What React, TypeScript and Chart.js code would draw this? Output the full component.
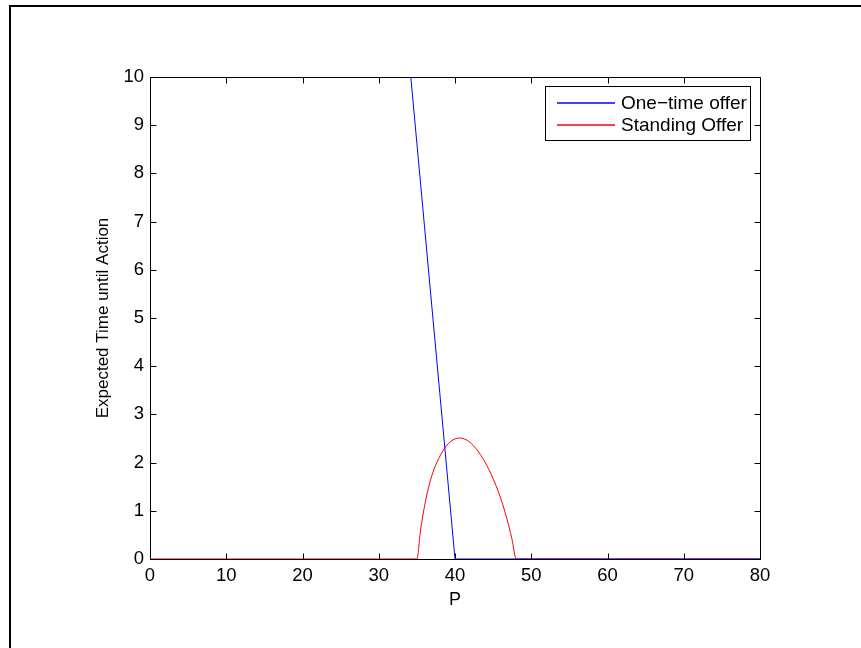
import React, { useEffect, useRef } from "react";
import { Chart, registerables } from "chart.js";

Chart.register(...registerables);

// ---- data ----
const xTickValues = [0, 10, 20, 30, 40, 50, 60, 70, 80];
const yTickValues = [0, 1, 2, 3, 4, 5, 6, 7, 8, 9, 10];

const oneTimeP = [32, 34, 36, 38, 40, 50, 60, 70, 80];
const oneTimeT = [13.8, 10.35, 6.9, 3.45, 0, 0, 0, 0, 0];

const standingP = [0, 10, 20, 30, 35.02, 35.45, 36.11, 36.98, 37.86, 38.73, 39.61, 40.62, 41.8, 43.1, 44.4, 45.7, 46.8, 47.46, 48.03, 50, 60, 70, 80];
const standingT = [0, 0, 0, 0, 0, 0.56, 1.18, 1.74, 2.08, 2.32, 2.46, 2.51, 2.44, 2.22, 1.87, 1.39, 0.84, 0.42, 0, 0, 0, 0, 0];

const seriesLabels = ["One\u2212time offer", "Standing Offer"];
const seriesColors = ["#0000ff", "#ff0000"];
const xTitle = "P";
const yTitle = "Expected Time until Action";

const FONT = "'Liberation Sans', Arial, Helvetica, sans-serif";

const framePlugin = {
  id: "frame",
  beforeDraw(chart: any) {
    const { ctx, width, height } = chart;
    ctx.save();
    ctx.fillStyle = "#ffffff";
    ctx.fillRect(0, 0, width, height);
    ctx.fillStyle = "#000000";
    ctx.fillRect(9, 5, width - 9, 2);
    ctx.fillRect(9, 5, 2, height - 5);
    ctx.restore();
  },
};

const boxTicksPlugin = {
  id: "boxTicks",
  beforeDatasetsDraw(chart: any) {
    const { ctx, chartArea, scales } = chart;
    const { left, right, top, bottom } = chartArea;
    const L = left + 0.5, R = right + 0.5, T = top + 0.5, B = bottom + 0.5;
    const tl = 6;
    ctx.save();
    ctx.strokeStyle = "#000000";
    ctx.lineWidth = 1;
    ctx.beginPath();
    for (const t of scales.x.ticks) {
      const px = Math.round(scales.x.getPixelForValue(t.value)) + 0.5;
      ctx.moveTo(px, B); ctx.lineTo(px, B - tl);
      ctx.moveTo(px, T); ctx.lineTo(px, T + tl);
    }
    for (const t of scales.y.ticks) {
      const py = Math.round(scales.y.getPixelForValue(t.value)) + 0.5;
      ctx.moveTo(L, py); ctx.lineTo(L + tl, py);
      ctx.moveTo(R, py); ctx.lineTo(R - tl, py);
    }
    ctx.stroke();
    ctx.strokeRect(L, T, R - L, B - T);
    ctx.restore();
  },
};

const legendPlugin = {
  id: "matLegend",
  afterDatasetsDraw(chart: any) {
    const { ctx, chartArea } = chart;
    const ds = chart.data.datasets;
    ctx.save();
    ctx.font = `19px ${FONT}`;
    let textW = 0;
    for (const d of ds) textW = Math.max(textW, ctx.measureText(d.label).width);
    const boxR = chartArea.right - 9.5;
    const boxT = chartArea.top + 9.5;
    const boxW = Math.round(11.5 + 58 + 6 + textW + 3.5);
    const boxL = boxR - boxW;
    const rowH = 21.6;
    const boxH = 54;
    ctx.fillStyle = "#ffffff";
    ctx.fillRect(boxL, boxT, boxW, boxH);
    ctx.strokeStyle = "#000000";
    ctx.lineWidth = 1;
    ctx.strokeRect(boxL, boxT, boxW, boxH);
    ds.forEach((d: any, i: number) => {
      const y = boxT + 16.5 + i * rowH;
      ctx.strokeStyle = seriesColors[i % seriesColors.length];
      ctx.lineWidth = 1.3;
      ctx.beginPath();
      ctx.moveTo(boxL + 11.5, Math.round(y));
      ctx.lineTo(boxL + 69.5, Math.round(y));
      ctx.stroke();
      ctx.fillStyle = "#000000";
      ctx.textBaseline = "middle";
      ctx.textAlign = "left";
      ctx.fillText(d.label, boxL + 75.5, y + 1);
    });
    ctx.restore();
  },
};

export default function App() {
  const ref = useRef<HTMLCanvasElement>(null);
  useEffect(() => {
    document.body.style.margin = "0";
    if (!ref.current) return;
    const mk = (xs: number[], ys: number[]) => xs.map((x, i) => ({ x, y: ys[i] }));
    const chart = new Chart(ref.current, {
      type: "line",
      data: {
        datasets: [
          {
            label: seriesLabels[0],
            data: mk(oneTimeP, oneTimeT),
            borderColor: seriesColors[0],
            borderWidth: 1,
            pointRadius: 0,
            tension: 0,
            clip: 0,
          },
          {
            label: seriesLabels[1],
            data: mk(standingP, standingT),
            borderColor: seriesColors[1],
            borderWidth: 1,
            pointRadius: 0,
            cubicInterpolationMode: "monotone",
            clip: 0,
          },
        ],
      },
      options: {
        responsive: false,
        animation: false,
        layout: { padding: { left: 0, top: 77, right: 101, bottom: 0 } },
        plugins: { legend: { display: false }, tooltip: { enabled: false } },
        scales: {
          x: {
            type: "linear",
            min: 0,
            max: 80,
            afterBuildTicks: (s: any) => { s.ticks = xTickValues.map((v) => ({ value: v })); },
            afterFit: (s: any) => { s.height = 89; },
            grid: { display: false, drawTicks: false },
            border: { display: false },
            ticks: { color: "#000", font: { family: FONT, size: 18.5 }, padding: 6, maxRotation: 0 },
            title: { display: true, text: xTitle, color: "#000", font: { family: FONT, size: 18 }, padding: { top: 0, bottom: 37 } },
          },
          y: {
            type: "linear",
            min: 0,
            max: 10,
            afterBuildTicks: (s: any) => { s.ticks = yTickValues.map((v) => ({ value: v })); },
            afterFit: (s: any) => { s.width = 150; },
            grid: { display: false, drawTicks: false },
            border: { display: false },
            ticks: { color: "#000", font: { family: FONT, size: 18.5 }, padding: 6 },
            title: { display: true, text: yTitle, color: "#000", font: { family: FONT, size: 17 }, padding: { top: 93, bottom: 0 } },
          },
        },
      },
      plugins: [framePlugin, boxTicksPlugin, legendPlugin],
    });
    return () => chart.destroy();
  }, []);
  return <canvas ref={ref} width={861} height={648} style={{ display: "block" }} />;
}
